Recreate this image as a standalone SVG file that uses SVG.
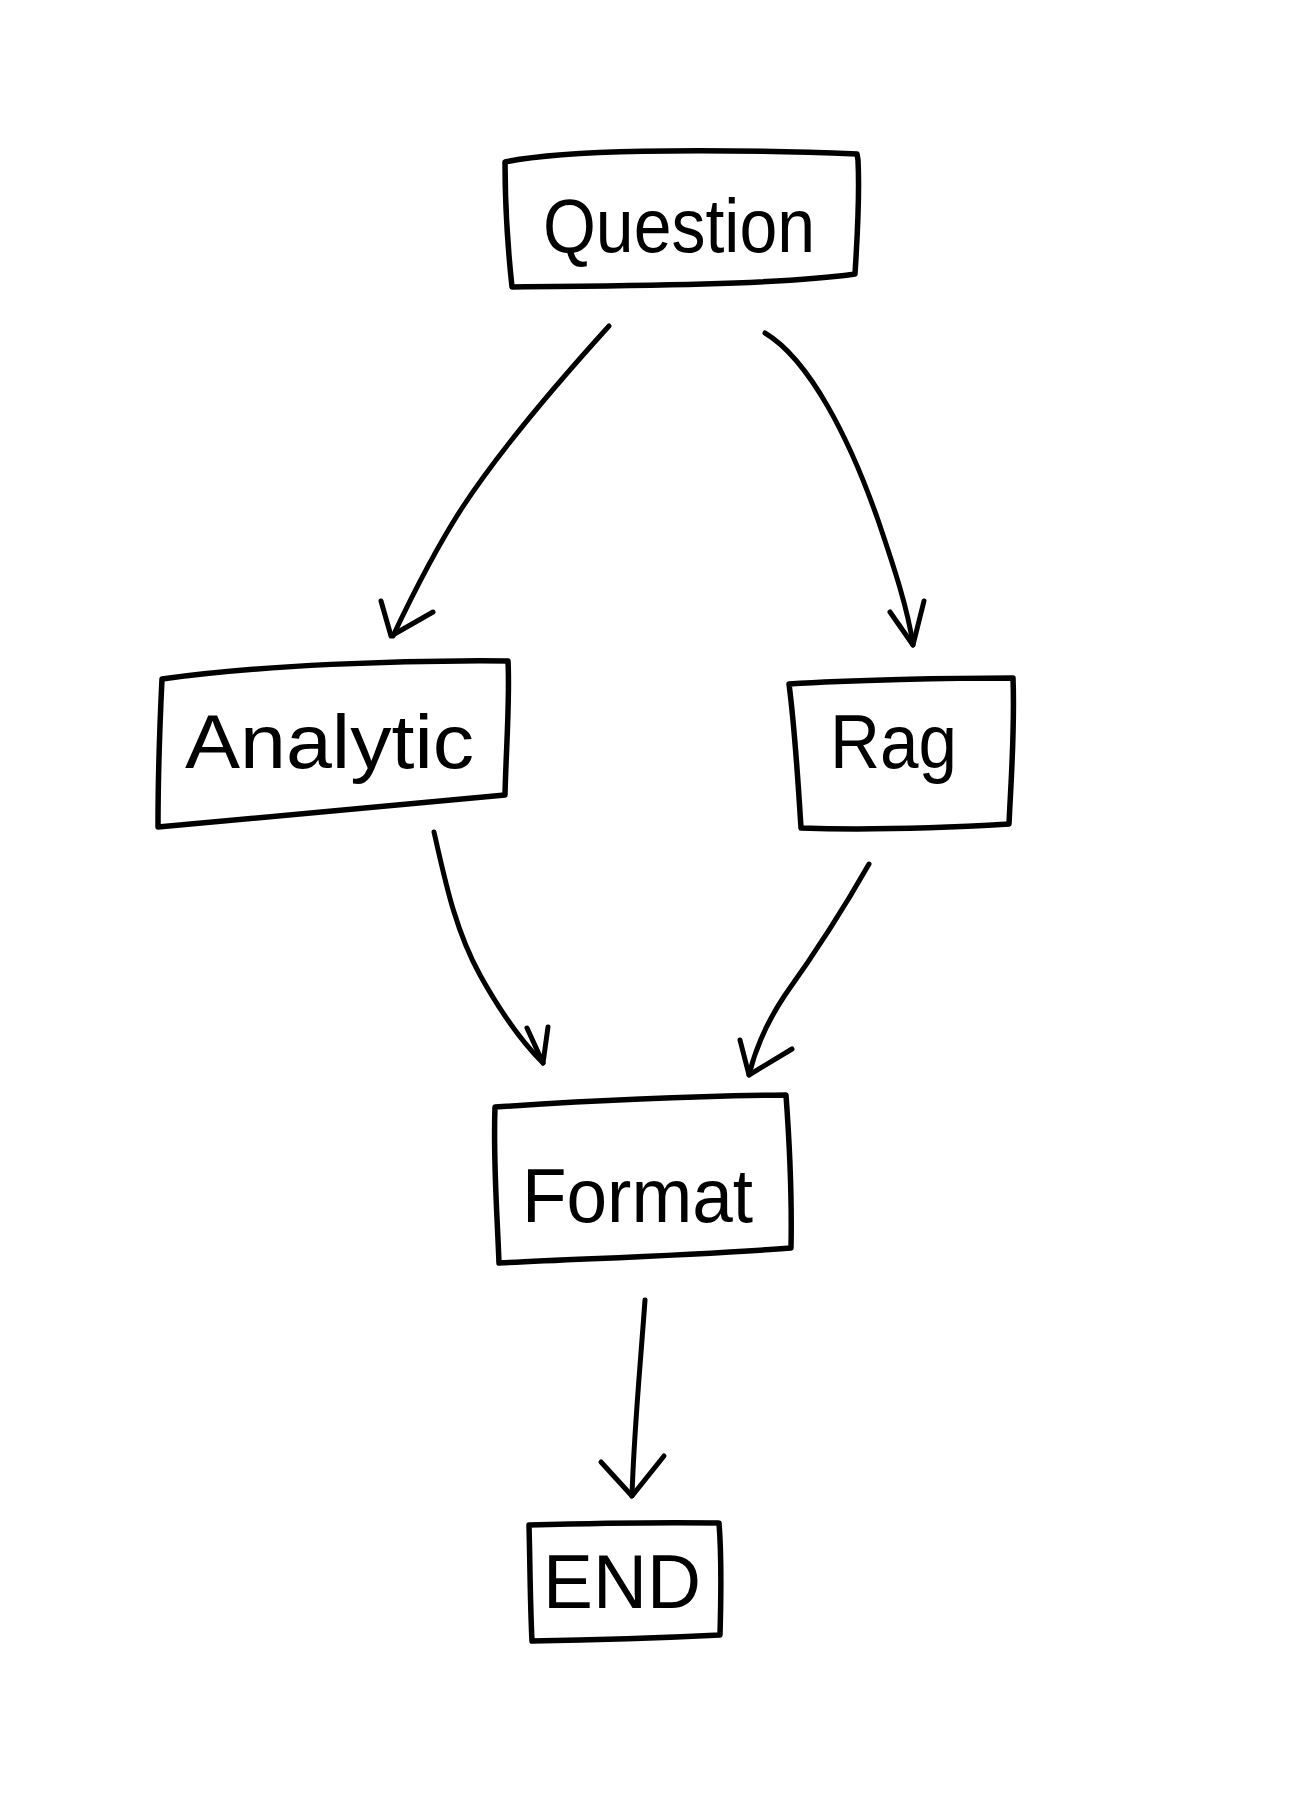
<svg xmlns="http://www.w3.org/2000/svg" width="1293" height="1812" viewBox="0 0 1293 1812">
<style>
.box{fill:none;stroke:#000;stroke-width:5.5;stroke-linejoin:round;stroke-linecap:round}
.edge{fill:none;stroke:#000;stroke-width:5;stroke-linecap:round;stroke-linejoin:round}
.lbl{font-family:"Liberation Sans",Arial,sans-serif;font-size:76px;fill:#000;font-weight:400}
</style>
<rect width="1293" height="1812" fill="#fff"/>
<g id="node-question">
<path class="box" d="M505,162 C560,150 700,148 857,154 L858,160 C860,200 857,240 855,274 C780,285 620,286 512,287 C508,250 505,200 505,162 Z"/>
<text class="lbl" x="543" y="252" textLength="272" lengthAdjust="spacingAndGlyphs">Question</text>
</g>
<g id="node-analytic">
<path class="box" d="M162,679 C260,665 400,660 508,661 C510,700 506,750 505,795 C400,805 280,815 158,827 C158,780 160,720 162,679 Z"/>
<text class="lbl" x="185" y="768" textLength="289" lengthAdjust="spacingAndGlyphs">Analytic</text>
</g>
<g id="node-rag">
<path class="box" d="M789,684 C850,680 950,678 1013,678 C1015,730 1011,780 1009,824 C940,828 860,830 801,828 C798,780 795,730 789,684 Z"/>
<text class="lbl" x="830" y="768" textLength="127" lengthAdjust="spacingAndGlyphs">Rag</text>
</g>
<g id="node-format">
<path class="box" d="M495,1107 C600,1100 700,1096 786,1095 C790,1150 792,1200 791,1248 C700,1255 600,1258 499,1263 C497,1210 493,1160 495,1107 Z"/>
<text class="lbl" x="522" y="1222" textLength="231" lengthAdjust="spacingAndGlyphs">Format</text>
</g>
<g id="node-end">
<path class="box" d="M529,1525 C600,1523 660,1522 719,1523 C722,1560 721,1600 720,1635 C660,1638 600,1640 532,1641 C530,1600 530,1560 529,1525 Z"/>
<text class="lbl" x="543" y="1608" textLength="158" lengthAdjust="spacingAndGlyphs">END</text>
</g>
<g id="connectors">
<path class="edge" d="M609,326 C560,380 500,450 462,508 C435,550 410,600 393,636"/>
<path class="edge" d="M381,601 L391,636 L433,612"/>
<path class="edge" d="M765,333 C810,360 850,440 878,520 C895,570 908,610 913,645"/>
<path class="edge" d="M890,612 L913,645 L924,601"/>
<path class="edge" d="M434,832 C445,880 455,930 480,975 C505,1020 525,1045 543,1063"/>
<path class="edge" d="M527,1028 L543,1063 L548,1027"/>
<path class="edge" d="M869,864 C840,915 810,960 785,995 C765,1025 755,1050 749,1075"/>
<path class="edge" d="M740,1040 L749,1075 L792,1049"/>
<path class="edge" d="M645,1300 C640,1370 634,1430 632,1496"/>
<path class="edge" d="M601,1462 L632,1496 L664,1456"/>
</g>
</svg>
